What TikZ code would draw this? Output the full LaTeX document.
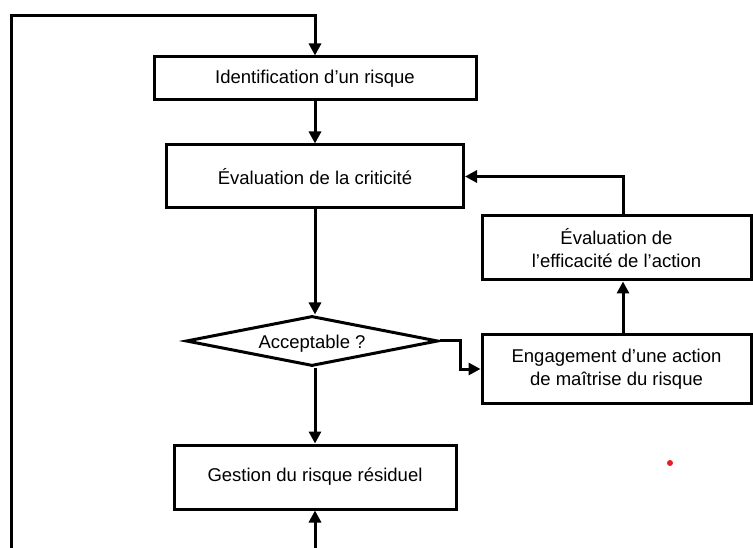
\documentclass[tikz,border=0pt]{standalone}
\usepackage{fontspec}
\setmainfont{Liberation Sans}
\usetikzlibrary{shapes.geometric,arrows.meta}
\definecolor{dotred}{RGB}{228,30,36}
\begin{document}
\begin{tikzpicture}[x=1pt,y=-1pt,
  every node/.style={font=\fontsize{18.5}{23}\selectfont},
  procbox/.style={draw,line width=3pt,rectangle,inner sep=0pt,align=center},
  decision/.style={draw,line width=3pt,diamond,inner sep=0pt,aspect=4.96},
  flow/.style={line width=3pt,-{Triangle[width=12pt,length=12pt]}}]
  \useasboundingbox[fill=white] (0,0) rectangle (753,548);

  % main column
  \node[procbox,minimum width=322pt,minimum height=43pt] (ident) at (315,78.5) {Identification d’un risque};
  \node[procbox,minimum width=297pt,minimum height=63pt] (crit) at (315,176.5) {Évaluation de la criticité};
  \node[decision,minimum width=252pt,minimum height=50pt] (accept) at (312,341) {\raisebox{-3pt}[\height][\depth]{Acceptable ?}};
  \node[procbox,minimum width=282pt,minimum height=64pt] (resid) at (315,477) {Gestion du risque résiduel};

  % right column
  \node[procbox,minimum width=269pt,minimum height=64pt] (effic) at (616.5,248) {Évaluation de\\l’efficacité de l’action};
  \node[procbox,minimum width=269pt,minimum height=68pt] (engage) at (616.5,369) {Engagement d’une action\\de maîtrise du risque};

  % routing points
  \coordinate (loopstart) at (11,548);
  \coordinate (looptop) at (11,15.5);
  \coordinate (residin) at (315,548);
  \coordinate (branch) at (460,341);
  \coordinate (rightx) at (623,0);

  % connectors
  \draw[flow] (loopstart) -- (looptop) -| (ident.north);
  \draw[flow] (ident.south) -- (crit.north);
  \draw[flow] (crit.south) -- (crit.south |- accept.north);
  \draw[flow] (accept.south -| crit.south) -- (resid.north);
  \draw[flow] (residin) -- (resid.south);
  \draw[flow] (accept.east) -- (branch) |- (engage.west);
  \draw[flow] (engage.north -| rightx) -- (effic.south -| rightx);
  \draw[flow] (effic.north -| rightx) |- (crit.east);

  % marker dot
  \fill[dotred] (670,463) circle (3);
\end{tikzpicture}
\end{document}
